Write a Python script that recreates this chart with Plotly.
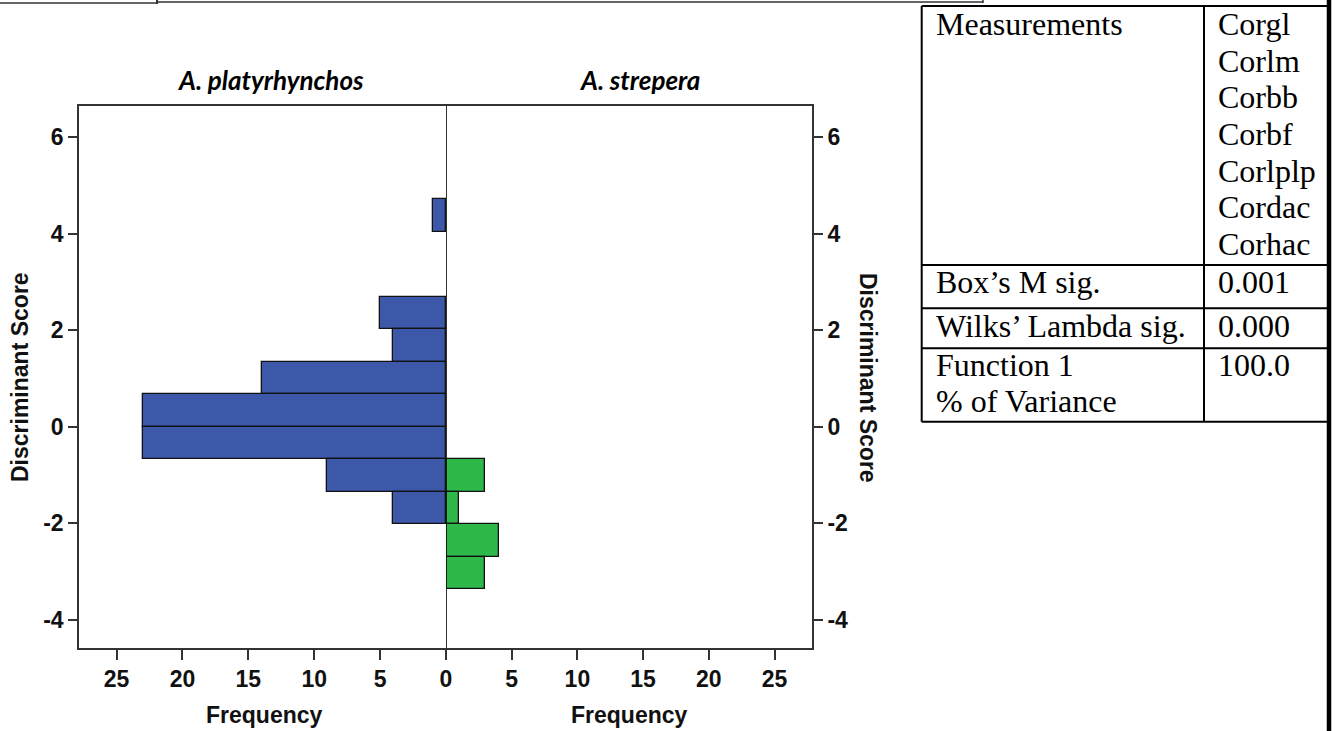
import plotly.graph_objects as go
from plotly.subplots import make_subplots

# ---------------- data ----------------
species = ["A. platyrhynchos", "A. strepera"]
bin_width = 0.673
platy_bin_mid = [4.375, 2.355, 1.682, 1.010, 0.337, -0.337, -1.010, -1.682]
platy_freq = [1, 5, 4, 14, 23, 23, 9, 4]
strep_bin_mid = [-1.010, -1.682, -2.356, -3.029]
strep_freq = [3, 1, 4, 3]
score_ticks = [-4, -2, 0, 2, 4, 6]
score_ticktext = ["-4", "-2", "0", "2", "4", "6"]
freq_ticks_left = [0, 5, 10, 15, 20, 25]
freq_ticks_right = [5, 10, 15, 20, 25]
table_left = ["Measurements", "Box\u2019s M sig.", "Wilks\u2019 Lambda sig.", "Function 1", "% of Variance"]
table_measures = ["Corgl", "Corlm", "Corbb", "Corbf", "Corlplp", "Cordac", "Corhac"]
table_values = ["0.001", "0.000", "100.0"]

W, H = 1335, 731


def X(px):
    return px / W


def Y(py):
    return 1 - py / H


BLUE = "#3d58a9"
GREEN = "#2eb84a"
FRAME = "#333333"

fig = make_subplots(rows=1, cols=2, horizontal_spacing=0)

fig.add_trace(go.Bar(y=platy_bin_mid, x=platy_freq, orientation="h", width=bin_width,
                     marker=dict(color=BLUE, line=dict(color="#111111", width=1.3)),
                     name=species[0], showlegend=False), row=1, col=1)
fig.add_trace(go.Bar(y=strep_bin_mid, x=strep_freq, orientation="h", width=bin_width,
                     marker=dict(color=GREEN, line=dict(color="#111111", width=1.3)),
                     name=species[1], showlegend=False), row=1, col=2)

tickfont = dict(family="Liberation Sans, Arial, sans-serif", size=23, color="#111111", weight="bold")
ydom = [Y(648), Y(106)]
yr = [-4.58, 6.64]

common_x = dict(ticks="outside", ticklen=10, tickwidth=1.5, tickcolor=FRAME,
                showline=True, linecolor=FRAME, linewidth=1.6, mirror=True,
                showgrid=False, zeroline=False, tickfont=tickfont, automargin=False)
common_y = dict(range=yr, domain=ydom, tickvals=score_ticks, ticktext=score_ticktext,
                ticks="outside", ticklen=9, tickwidth=1.5, tickcolor=FRAME,
                showline=True, linecolor=FRAME, linewidth=1.6,
                showgrid=False, zeroline=False, tickfont=tickfont, automargin=False)

fig.update_layout(
    width=W, height=H, margin=dict(l=0, r=0, t=0, b=0, autoexpand=False),
    paper_bgcolor="white", plot_bgcolor="white", bargap=0,
    xaxis=dict(domain=[X(79), X(446)], range=[27.85, 0], tickvals=freq_ticks_left, **common_x),
    xaxis2=dict(domain=[X(446), X(812)], range=[0, 27.85], tickvals=freq_ticks_right, **common_x),
    yaxis=dict(**common_y),
    yaxis2=dict(side="right", anchor="x2", matches="y", **common_y),
)

shapes = []
# zero line between panels
shapes.append(dict(type="line", xref="x2", yref="y2 domain", x0=0, x1=0, y0=0, y1=1,
                   line=dict(color="#000000", width=1.6)))


def pline(x0, y0, x1, y1, w=2, c="black"):
    shapes.append(dict(type="line", xref="paper", yref="paper",
                       x0=X(x0), x1=X(x1), y0=Y(y0), y1=Y(y1), line=dict(color=c, width=w)))


# remnants of table border at top
pline(0, 3, 157, 3, 1.5, "#333")
pline(157, 0, 157, 4, 2, "#333")
pline(158, 2, 983, 2, 1.5, "#333")
pline(983, 0, 983, 3, 1.5, "#333")

# right-hand table
TL, TR, TT, TB, TC = 921.7, 1327, 6, 421.7, 1204
pline(TL, TT, TR, TT)
pline(TL, TT, TL, TB)
pline(TL, TB, TR, TB)
pline(TC, TT, TC, TB)
for ry in [265, 308.3, 348.3]:
    pline(TL, ry, TR, ry)
pline(1329, 0, 1329, 731, 4.5, "black")

fig.update_layout(shapes=shapes)

ann = []
ffam = "Liberation Serif, Times New Roman, serif"
fs = 32


def tab_text(txt, x, baseline):
    ann.append(dict(text=txt, x=X(x - 2), y=Y(baseline - 0.34 * fs), xref="paper", yref="paper",
                    xanchor="left", yanchor="middle", showarrow=False,
                    font=dict(family=ffam, size=fs, color="black")))


tab_text(table_left[0], 936, 35)
for i, m in enumerate(table_measures):
    tab_text(m, 1218, 35 + 36.67 * i)
tab_text(table_left[1], 936, 293.3)
tab_text(table_values[0], 1218, 293.3)
tab_text(table_left[2], 936, 336.7)
tab_text(table_values[1], 1218, 336.7)
tab_text(table_left[3], 936, 376)
tab_text(table_values[2], 1218, 376)
tab_text(table_left[4], 936, 411.7)

# species titles
for txt, cx in [(species[0], 270), (species[1], 639)]:
    ann.append(dict(text="<b><i>" + txt + "</i></b>", x=X(cx), y=Y(80), xref="paper", yref="paper",
                    xanchor="center", yanchor="middle", showarrow=False,
                    font=dict(family="Lato, Open Sans, sans-serif", size=26, color="black")))

# axis titles
tfont = dict(family="Liberation Sans, Arial, sans-serif", size=23, color="#111111", weight="bold")
for cx in [264, 629.5]:
    ann.append(dict(text="Frequency", x=X(cx), y=Y(715), xref="paper", yref="paper",
                    xanchor="center", yanchor="middle", showarrow=False, font=tfont))
ann.append(dict(text="Discriminant Score", x=X(20), y=Y(377), xref="paper", yref="paper",
                xanchor="center", yanchor="middle", showarrow=False, textangle=-90, font=tfont))
ann.append(dict(text="Discriminant Score", x=X(868), y=Y(378), xref="paper", yref="paper",
                xanchor="center", yanchor="middle", showarrow=False, textangle=90, font=tfont))

fig.update_layout(annotations=ann)

fig.write_html("out.html", config={"displayModeBar": False},
               post_script="document.body.style.margin='0px';")
